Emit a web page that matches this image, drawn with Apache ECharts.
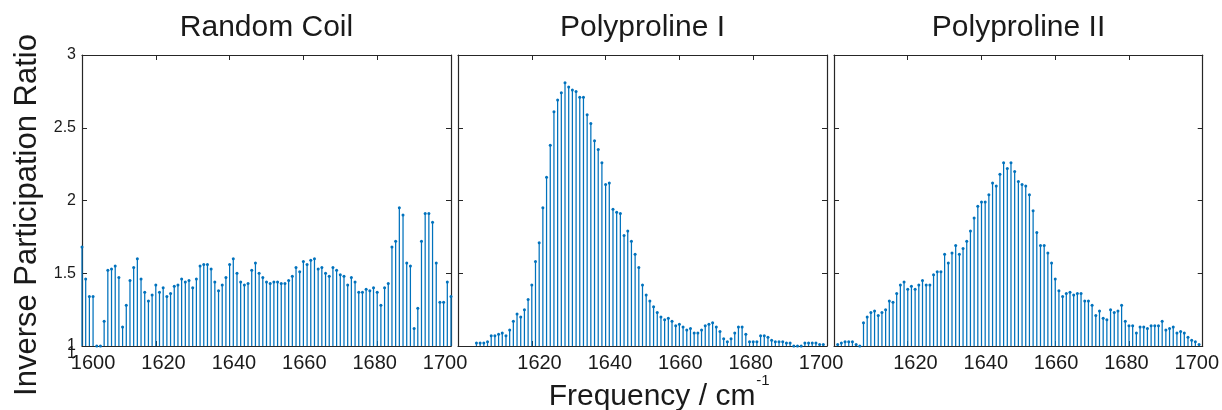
<!DOCTYPE html>
<html><head><meta charset="utf-8">
<script src="https://cdn.jsdelivr.net/npm/echarts@6/dist/echarts.min.js"></script>
<style>html,body{margin:0;padding:0;background:#fff}#c{width:1222px;height:410px}</style>
</head><body><div id="c"></div>
<script>
const frequencies = [1600,1601,1602,1603,1604,1605,1606,1607,1608,1609,1610,1611,1612,1613,1614,1615,1616,1617,1618,1619,
1620,1621,1622,1623,1624,1625,1626,1627,1628,1629,1630,1631,1632,1633,1634,1635,1636,1637,1638,1639,
1640,1641,1642,1643,1644,1645,1646,1647,1648,1649,1650,1651,1652,1653,1654,1655,1656,1657,1658,1659,
1660,1661,1662,1663,1664,1665,1666,1667,1668,1669,1670,1671,1672,1673,1674,1675,1676,1677,1678,1679,
1680,1681,1682,1683,1684,1685,1686,1687,1688,1689,1690,1691,1692,1693,1694,1695,1696,1697,1698,1699,1700];

const randomCoil = [1.68,1.46,1.34,1.34,1.0,1.0,1.17,1.52,1.53,1.55,
1.47,1.13,1.28,1.45,1.54,1.60,1.46,1.37,1.31,1.35,
1.42,1.37,1.40,1.34,1.36,1.41,1.42,1.46,1.44,1.45,
1.40,1.46,1.55,1.56,1.56,1.53,1.44,1.38,1.42,1.47,
1.56,1.60,1.50,1.44,1.42,1.43,1.52,1.57,1.50,1.47,
1.44,1.43,1.44,1.44,1.43,1.43,1.45,1.48,1.54,1.51,
1.58,1.56,1.59,1.60,1.53,1.54,1.50,1.48,1.54,1.52,
1.49,1.48,1.42,1.47,1.44,1.37,1.37,1.39,1.38,1.40,
1.37,1.28,1.40,1.43,1.68,1.72,1.95,1.90,1.57,1.55,
1.12,1.26,1.72,1.91,1.91,1.85,1.57,1.30,1.30,1.44,
1.34];

const polyprolineI = [null,null,null,null,null,1.02,1.02,1.02,1.03,1.07,
1.07,1.08,1.09,1.07,1.11,1.17,1.22,1.20,1.25,1.32,
1.42,1.58,1.71,1.95,2.16,2.38,2.61,2.69,2.74,2.81,
2.78,2.76,2.75,2.71,2.71,2.59,2.53,2.41,2.35,2.26,
2.11,2.12,1.94,1.92,1.91,1.76,1.79,1.72,1.63,1.54,
1.42,1.35,1.31,1.27,1.23,1.20,1.18,1.19,1.17,1.14,
1.15,1.13,1.11,1.12,1.09,1.09,1.11,1.14,1.15,1.16,
1.13,1.10,1.05,1.03,1.05,1.09,1.13,1.13,1.08,1.03,
1.03,1.03,1.07,1.07,1.06,1.04,1.03,1.03,1.03,1.02,
1.02,1.0,1.0,1.0,1.02,1.02,1.02,1.02,1.01,1.01,
null];

const polyprolineII = [null,1.01,1.02,1.03,1.03,1.03,1.01,1.0,1.16,1.20,
1.23,1.24,1.21,1.23,1.25,1.31,1.30,1.36,1.42,1.44,
1.39,1.41,1.39,1.42,1.45,1.42,1.42,1.49,1.51,1.51,
1.63,1.57,1.64,1.69,1.63,1.67,1.72,1.79,1.88,1.96,
1.99,1.99,2.04,2.12,2.10,2.18,2.26,2.22,2.26,2.20,
2.13,2.11,2.10,2.04,1.93,1.78,1.69,1.69,1.64,1.57,
1.46,1.38,1.34,1.36,1.37,1.35,1.36,1.36,1.31,1.31,
1.28,1.21,1.24,1.19,1.18,1.25,1.23,1.24,1.28,1.17,
1.14,1.14,1.09,1.13,1.13,1.12,1.14,1.14,1.14,1.17,
1.11,1.12,1.13,1.09,1.10,1.09,1.06,1.04,1.03,1.01,
null];

const panelTitles = ['Random Coil', 'Polyproline I', 'Polyproline II'];
const xTickLabelsFirst = [1600, 1620, 1640, 1660, 1680, 1700];
const xTickLabelsOther = [1620, 1640, 1660, 1680, 1700];
const yTickLabels = [1, 1.5, 2, 2.5, 3];
const yAxisTitle = 'Inverse Participation Ratio';
const xAxisTitle = 'Frequency / cm';
const xAxisTitleSup = '-1';

const seriesValues = [randomCoil, polyprolineI, polyprolineII];

const FONT = "'Liberation Sans', Arial, Helvetica, sans-serif";
const INK = '#1a1a1a';
const AX = '#262626';
const STEM = '#0072BD';
const lefts = [82, 458, 834];
const TOP = 55, W = 369, H = 291;

const grids = [], xAxes = [], yAxes = [], series = [], graphics = [];

lefts.forEach((left, k) => {
  grids.push({left: left, top: TOP, width: W, height: H, containLabel: false});
  const tickBase = {
    show: true, inside: true, length: 5, lineStyle: {color: AX, width: 1}
  };
  xAxes.push({
    gridIndex: k, type: 'value', position: 'bottom', min: 1600, max: 1700, interval: 20,
    axisLine: {show: true, onZero: false, lineStyle: {color: AX, width: 1.2}},
    axisTick: tickBase, axisLabel: {show: false}, splitLine: {show: false}
  });
  xAxes.push({
    gridIndex: k, type: 'value', position: 'top', min: 1600, max: 1700, interval: 20,
    axisLine: {show: true, onZero: false, lineStyle: {color: AX, width: 1.2}},
    axisTick: tickBase, axisLabel: {show: false}, splitLine: {show: false}
  });
  xAxes.push({
    gridIndex: k, type: 'value', position: 'bottom', min: 1596.84, max: 1701.7,
    axisLine: {show: false}, axisTick: {show: false}, splitLine: {show: false},
    axisLabel: {
      show: true, customValues: k === 0 ? xTickLabelsFirst : xTickLabelsOther,
      formatter: v => String(v),
      fontSize: 20, fontFamily: FONT, color: INK, margin: 7,
      showMinLabel: true, showMaxLabel: true
    }
  });
  yAxes.push({
    gridIndex: k, type: 'value', position: 'left', min: 1, max: 3, interval: 0.5,
    axisLine: {show: true, onZero: false, lineStyle: {color: AX, width: 1.2}},
    axisTick: tickBase, splitLine: {show: false},
    axisLabel: {show: k === 0, fontSize: 16, fontFamily: FONT, color: INK, margin: 6,
      customValues: yTickLabels, formatter: v => String(v)}
  });
  yAxes.push({
    gridIndex: k, type: 'value', position: 'right', min: 1, max: 3, interval: 0.5,
    axisLine: {show: true, onZero: false, lineStyle: {color: AX, width: 1.2}},
    axisTick: tickBase, axisLabel: {show: false}, splitLine: {show: false}
  });

  const vals = seriesValues[k];
  const data = [];
  frequencies.forEach((f, i) => { if (vals[i] !== null) data.push([f, vals[i]]); });
  series.push({
    type: 'custom', xAxisIndex: 3 * k, yAxisIndex: 2 * k, data: data,
    encode: {x: 0, y: 1},
    renderItem: function (params, api) {
      const x = api.value(0), y = api.value(1);
      const b = api.coord([x, 1]);
      const t = api.coord([x, y]);
      return {
        type: 'group', children: [
          {type: 'line', shape: {x1: b[0], y1: b[1], x2: t[0], y2: t[1]},
           style: {stroke: STEM, lineWidth: 1.25}},
          {type: 'circle', shape: {cx: t[0], cy: t[1], r: 1.5}, style: {fill: STEM}}
        ]
      };
    }
  });

  graphics.push({
    type: 'text', x: left + W / 2, y: 28,
    style: {text: panelTitles[k], font: "30px " + FONT, fill: INK,
      textAlign: 'center', textVerticalAlign: 'middle'}
  });
});

graphics.push({
  type: 'text', x: 27, y: 215, rotation: Math.PI / 2,
  style: {text: yAxisTitle, font: "31px " + FONT, fill: INK,
    textAlign: 'center', textVerticalAlign: 'middle'}
});

// x-axis title with superscript placed right after the measured main text
const titleFont = "30px " + FONT;
const mctx = document.createElement('canvas').getContext('2d');
mctx.font = titleFont;
const mainW = mctx.measureText(xAxisTitle).width;
const titleCenter = 652;
const titleLeft = titleCenter - mainW / 2;
graphics.push({
  type: 'text', x: titleLeft, y: 397,
  style: {text: xAxisTitle, font: titleFont, fill: INK,
    textAlign: 'left', textVerticalAlign: 'middle'}
});
graphics.push({
  type: 'text', x: titleLeft + mainW + 1, y: 381,
  style: {text: xAxisTitleSup, font: "15px " + FONT, fill: INK,
    textAlign: 'left', textVerticalAlign: 'middle'}
});
graphics.push({
  type: 'text', x: 76, y: 354,
  style: {text: String(yTickLabels[0]), font: "16px " + FONT, fill: INK,
    textAlign: 'right', textVerticalAlign: 'middle'}
});

const chart = echarts.init(document.getElementById('c'), null, {renderer: 'canvas'});
chart.setOption({
  animation: false,
  backgroundColor: '#fff',
  grid: grids, xAxis: xAxes, yAxis: yAxes, series: series,
  graphic: graphics
});
</script></body></html>
